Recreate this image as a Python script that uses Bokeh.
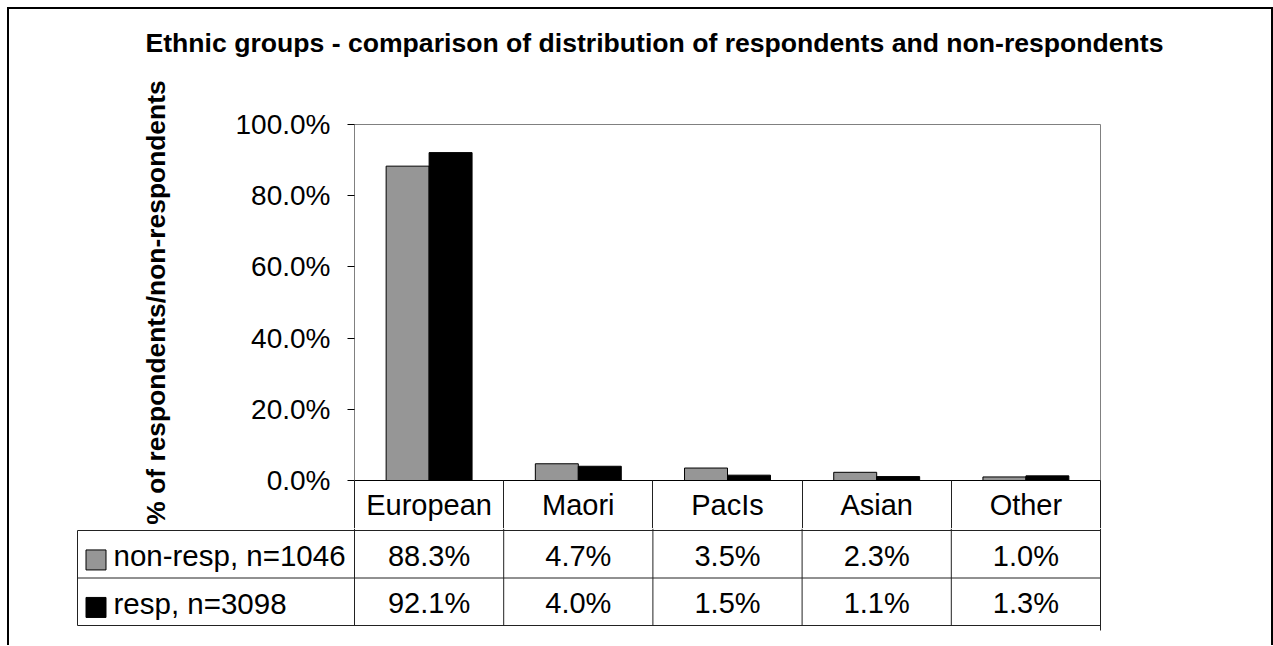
from bokeh.plotting import figure
from bokeh.models import Range1d, FixedTicker, PrintfTickFormatter
from bokeh.layouts import column
from bokeh.embed import file_html
from bokeh.resources import INLINE
from bokeh.core.properties import value
import numpy as np

# ---------------- data ----------------
categories = ["European", "Maori", "PacIs", "Asian", "Other"]
non_resp = [88.3, 4.7, 3.5, 2.3, 1.0]
resp = [92.1, 4.0, 1.5, 1.1, 1.3]
series_labels = ["non-resp, n=1046", "resp, n=3098"]
y_ticks = [0, 20, 40, 60, 80, 100]
title_text = "Ethnic groups - comparison of distribution of respondents and non-respondents"
y_label = "% of respondents/non-respondents"

# ---------------- style / layout ----------------
FONT = "Liberation Sans"
GRAY = "#969696"
LINE = "#222222"
W = 1262
F0_H = 60
F1_LEFT, F1_W, F1_RIGHT = 345, 746, 171
F1_TOP, F1_H, F1_BOTTOM = 55, 356, 48
PX = F1_W / len(categories)          # pixels per category
ROW_PX = 47.5
F2_H = 117
F2_LEFT, F2_RIGHT = 63, 165
TABLE_LEFT_PX = 277                  # table extends this far left of the plot area

n = len(categories)
centers = np.arange(n) + 0.5
bounds = list(range(n + 1))

# ---------------- title strip ----------------
p0 = figure(width=W, height=F0_H, x_range=Range1d(0, W), y_range=Range1d(F0_H, 0),
            x_axis_location=None, y_axis_location=None,
            output_backend="svg", toolbar_location=None,
            min_border_left=0, min_border_right=0, min_border_top=0, min_border_bottom=0)
p0.frame_align = False
p0.xgrid.visible = False
p0.ygrid.visible = False
p0.outline_line_color = None
p0.text(x=[645], y=[33], text=[title_text], text_font=value(FONT),
        text_font_size="26.6px", text_font_style="bold", text_color="black",
        text_align="center", text_baseline="alphabetic")

# ---------------- chart ----------------
p1 = figure(width=W, height=F1_TOP + F1_H + F1_BOTTOM,
            x_range=Range1d(0, n), y_range=Range1d(0, 100),
            output_backend="svg", toolbar_location=None,
            min_border_left=F1_LEFT, min_border_right=F1_RIGHT,
            min_border_top=F1_TOP, min_border_bottom=F1_BOTTOM)
p1.frame_align = False
p1.xgrid.visible = False
p1.ygrid.visible = False
p1.outline_line_color = "#808080"

ya = p1.yaxis[0]
ya.ticker = FixedTicker(ticks=y_ticks)
ya.formatter = PrintfTickFormatter(format="%.1f%%")
ya.major_label_text_font = FONT
ya.major_label_text_font_size = "28px"
ya.major_label_text_color = "black"
ya.major_tick_out = 7
ya.major_tick_in = 0
ya.minor_tick_out = 0
ya.minor_tick_in = 0
ya.major_tick_line_color = "black"
ya.axis_line_color = "#808080"
ya.major_label_standoff = 17
ya.axis_label = y_label
ya.axis_label_text_font = FONT
ya.axis_label_text_font_size = "26.4px"
ya.axis_label_text_font_style = "bold"
ya.axis_label_text_color = "black"
ya.axis_label_standoff = 62

xa = p1.xaxis[0]
xa.ticker = FixedTicker(ticks=list(centers), minor_ticks=bounds)
xa.major_label_overrides = {float(c): cat for c, cat in zip(centers, categories)}
xa.major_label_text_font = FONT
xa.major_label_text_font_size = "29px"
xa.major_label_text_color = "black"
xa.major_tick_out = 0
xa.major_tick_in = 0
xa.minor_tick_out = F1_BOTTOM
xa.minor_tick_in = 0
xa.minor_tick_line_color = LINE
xa.axis_line_color = "black"
xa.major_label_standoff = -40

bw = 0.288
p1.vbar(x=centers - bw / 2, width=bw, top=non_resp, bottom=0,
        fill_color=GRAY, line_color="black", line_width=1)
p1.vbar(x=centers + bw / 2, width=bw, top=resp, bottom=0,
        fill_color="black", line_color="black", line_width=1)

# ---------------- data table ----------------
x_start = -(F1_LEFT - F2_LEFT) / PX
x_end = n + ((W - F2_RIGHT) - (F1_LEFT + F1_W)) / PX
y_top = -2 / ROW_PX
p2 = figure(width=W, height=F2_H,
            x_range=Range1d(x_start, x_end),
            y_range=Range1d(y_top + F2_H / ROW_PX, y_top),
            x_axis_location=None, y_axis_location=None,
            output_backend="svg", toolbar_location=None,
            min_border_left=F2_LEFT, min_border_right=F2_RIGHT,
            min_border_top=0, min_border_bottom=0)
p2.frame_align = False
p2.xgrid.visible = False
p2.ygrid.visible = False
p2.outline_line_color = None

x_tab = -TABLE_LEFT_PX / PX
rows = [0, 1, 2]
p2.segment(x0=[x_tab] * 3, y0=rows, x1=[n] * 3, y1=rows,
           line_color=LINE, line_width=1)
v_y1 = [2] * n + [2 + 5 / ROW_PX]
p2.segment(x0=bounds, y0=[y_top] * (n + 1), x1=bounds, y1=v_y1,
           line_color=LINE, line_width=1)
p2.segment(x0=[x_tab], y0=[0], x1=[x_tab], y1=[2],
           line_color=LINE, line_width=1)

row_centers = [0.5, 1.5]
for r, vals in zip(row_centers, [non_resp, resp]):
    p2.text(x=list(centers), y=[r + 0.03] * n, text=[f"{v:.1f}%" for v in vals],
            text_font=value(FONT), text_font_size="29px",
            text_align="center", text_baseline="middle", text_color="black")

p2.scatter(x=[x_tab + 18.5 / PX] * 2, y=[r + 0.12 for r in row_centers],
           marker="square", size=20,
           fill_color=[GRAY, "black"], line_color="black", line_width=1)
p2.text(x=[x_tab + 36 / PX] * 2, y=[r + 0.03 for r in row_centers], text=series_labels,
        text_font=value(FONT), text_font_size="29.5px",
        text_align="left", text_baseline="middle", text_color="black")

layout = column(p0, p1, p2, spacing=0,
                styles={"margin-left": "7px", "margin-top": "7px",
                        "border-left": "2px solid black",
                        "border-top": "2px solid black",
                        "border-right": "2px solid black"})

open("out.html", "w").write(file_html(layout, INLINE))
